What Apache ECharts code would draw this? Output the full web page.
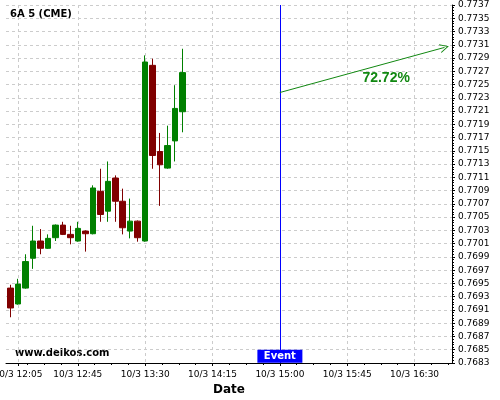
<!DOCTYPE html>
<html>
<head>
<meta charset="utf-8">
<script src="https://cdn.jsdelivr.net/npm/echarts@6/dist/echarts.min.js"></script>
<style>html,body{margin:0;padding:0;background:#fff}#c{width:500px;height:400px}</style>
</head>
<body>
<div id="c"></div>
<script>
// 5-minute bars, 10/3
var times = ['12:00','12:05','12:10','12:15','12:20','12:25','12:30','12:35','12:40','12:45','12:50','12:55',
             '13:00','13:05','13:10','13:15','13:20','13:25','13:30','13:35','13:40','13:45','13:50','13:55'];
var openV  = [0.76943,0.76919,0.76943,0.76988,0.77014,0.77003,0.77019,0.77038,0.77024,0.77014,0.77029,0.77025,
              0.77089,0.77059,0.77109,0.77074,0.77029,0.77044,0.77014,0.77279,0.77149,0.77124,0.77165,0.77209];
var closeV = [0.76913,0.76949,0.76983,0.77014,0.77003,0.77018,0.77038,0.77024,0.77019,0.77033,0.77025,0.77094,
              0.77054,0.77104,0.77074,0.77034,0.77044,0.77019,0.77284,0.77143,0.77129,0.77158,0.77214,0.77268];
var lowV   = [0.76899,0.76918,0.76942,0.76972,0.76994,0.77002,0.77014,0.77023,0.77009,0.77013,0.76998,0.77024,
              0.77043,0.77043,0.77043,0.77024,0.77018,0.77013,0.77013,0.77123,0.77067,0.77123,0.77134,0.77178];
var highV  = [0.76948,0.76957,0.76994,0.77037,0.77032,0.77024,0.77039,0.77043,0.77037,0.77043,0.77030,0.77098,
              0.77123,0.77134,0.77113,0.77093,0.77078,0.77045,0.77294,0.77289,0.77177,0.77188,0.77249,0.77304];
var xTickLabels = ['12:05','12:45','13:30','14:15','15:00','15:45','16:30'];
var yTickLabels = ['0.7683','0.7685','0.7687','0.7689','0.7691','0.7693','0.7695','0.7697','0.7699','0.7701',
                   '0.7703','0.7705','0.7707','0.7709','0.7711','0.7713','0.7715','0.7717','0.7719','0.7721',
                   '0.7723','0.7725','0.7727','0.7729','0.7731','0.7733','0.7735','0.7737'];
var eventTime = '15:00';
var arrowStart = ['15:00', 0.77238];
var arrowEnd = ['16:50', 0.77306];
var arrowText = '72.72%';
var arrowTextAt = ['16:11', 0.77260];
var eventLabelValue = 0.76840;
var title = '6A 5 (CME)';
var watermark = 'www.delkos.com';

var Y_MIN = 0.7683, Y_MAX = 0.7737;
function toMin(t){ var p = t.split(':'); return (+p[0]-12)*60 + (+p[1]); }
function fromMin(m){ var h = 12 + Math.floor(m/60), mm = Math.round(m - Math.floor(m/60)*60); return '10/3 ' + h + ':' + (mm<10?'0':'') + mm; }

// 5-minute category slots spanning the visible time range (12:00 .. 16:55)
var slots = [];
for (var s = 0; s < 60; s++) slots.push(fromMin(s * 5));
var candles = times.map(function(t,i){ return [openV[i], closeV[i], lowV[i], highV[i]]; });
var xMajor = xTickLabels.map(toMin);
var xMinor = [];
for (var k = 0; k < 27; k++) { var v = k * 11.25; if (v <= 295 && v % 45 !== 0) xMinor.push(v); }
var yTicks = yTickLabels.map(Number);

var font = 'DejaVu Sans';
var chart = echarts.init(document.getElementById('c'), null, {renderer: 'canvas'});
chart.setOption({
  animation: false,
  backgroundColor: '#ffffff',
  grid: [
    {left: 6, right: 48, top: 5, bottom: 37, containLabel: false, outerBoundsMode: 'none'},
    {left: 6.75, right: 44.25, top: 5, bottom: 37, containLabel: false, outerBoundsMode: 'none'}
  ],
  graphic: [
    {type: 'text', left: 10, top: 9, style: {text: title, font: 'bold 10px "DejaVu Sans"', fill: '#000'}},
    {type: 'text', left: 15, top: 348, style: {text: watermark, font: 'bold 10px "DejaVu Sans"', fill: '#000'}}
  ],
  xAxis: [{
    type: 'value', gridIndex: 0, min: -3, max: 295, interval: 1, position: 'bottom',
    name: 'Date', nameLocation: 'middle', nameGap: 21,
    nameTextStyle: {fontFamily: font, fontWeight: 'bold', fontSize: 12, color: '#000'},
    axisLine: {show: true, onZero: false, lineStyle: {color: '#000', width: 1}},
    axisTick: {show: true, length: 3, customValues: xMajor, lineStyle: {color: '#000'}},
    axisLabel: {customValues: xMajor, fontFamily: font, fontSize: 9, color: '#000', margin: 7,
                formatter: function(v){ return fromMin(v); }},
    splitLine: {show: true, lineStyle: {color: '#cccccc', type: [3, 3], width: 1}}
  }, {
    type: 'value', gridIndex: 0, min: -3, max: 295, interval: 1, position: 'bottom',
    axisLine: {show: false},
    axisTick: {show: true, length: 2, customValues: xMinor, lineStyle: {color: '#000'}},
    axisLabel: {show: false},
    splitLine: {show: false}
  }, {
    type: 'category', gridIndex: 1, data: slots, boundaryGap: true, show: false
  }],
  yAxis: [{
    type: 'value', gridIndex: 0, position: 'right', min: Y_MIN, max: Y_MAX, interval: 0.0002,
    axisLine: {show: true, onZero: false, lineStyle: {color: '#000', width: 1}},
    axisTick: {show: true, length: 3, customValues: yTicks, lineStyle: {color: '#000'}},
    minorTick: {show: true, splitNumber: 5, length: 2, lineStyle: {color: '#000'}},
    axisLabel: {customValues: yTicks, fontFamily: font, fontSize: 9, color: '#000', margin: 6,
                formatter: function(v){ return v.toFixed(4); }},
    splitLine: {show: true, lineStyle: {color: '#cccccc', type: [3, 3], width: 1}}
  }, {
    type: 'value', gridIndex: 1, min: Y_MIN, max: Y_MAX, interval: 0.0002, show: false, splitLine: {show: false}
  }],
  series: [{
    type: 'candlestick',
    xAxisIndex: 2, yAxisIndex: 1,
    data: candles,
    barWidth: 6,
    itemStyle: {color: '#008000', color0: '#800000', borderColor: '#008000', borderColor0: '#800000', borderWidth: 1}
  }, {
    type: 'line',
    xAxisIndex: 0, yAxisIndex: 0,
    data: [],
    markLine: {
      silent: true, animation: false,
      data: [
        {xAxis: toMin(eventTime), symbol: 'none', lineStyle: {color: '#0000ff', type: 'solid', width: 1}, label: {show: false}},
        [
          {coord: [toMin(arrowStart[0]), arrowStart[1]], symbol: 'none'},
          {coord: [toMin(arrowEnd[0]), arrowEnd[1]], symbol: 'path://M5,0 L10,10 L8.8,10 L5,2.2 L1.2,10 L0,10 Z', symbolSize: [9, 9]}
        ]
      ],
      lineStyle: {color: '#118811', type: 'solid', width: 1},
      label: {show: false},
      symbol: ['none', 'none']
    },
    markPoint: {
      silent: true, animation: false,
      data: [
        {coord: [toMin(eventTime), eventLabelValue], symbol: 'rect', symbolSize: [45, 13],
         itemStyle: {color: '#0000ff'},
         label: {show: true, position: 'inside', formatter: 'Event', color: '#fff', fontFamily: font, fontWeight: 'bold', fontSize: 10}},
        {coord: [toMin(arrowTextAt[0]), arrowTextAt[1]], symbol: 'circle', symbolSize: 1,
         itemStyle: {color: 'rgba(0,0,0,0)'},
         label: {show: true, position: 'inside', formatter: arrowText, color: '#118811', fontFamily: 'Liberation Sans', fontWeight: 'bold', fontSize: 14}}
      ]
    }
  }]
});
</script>
</body>
</html>
